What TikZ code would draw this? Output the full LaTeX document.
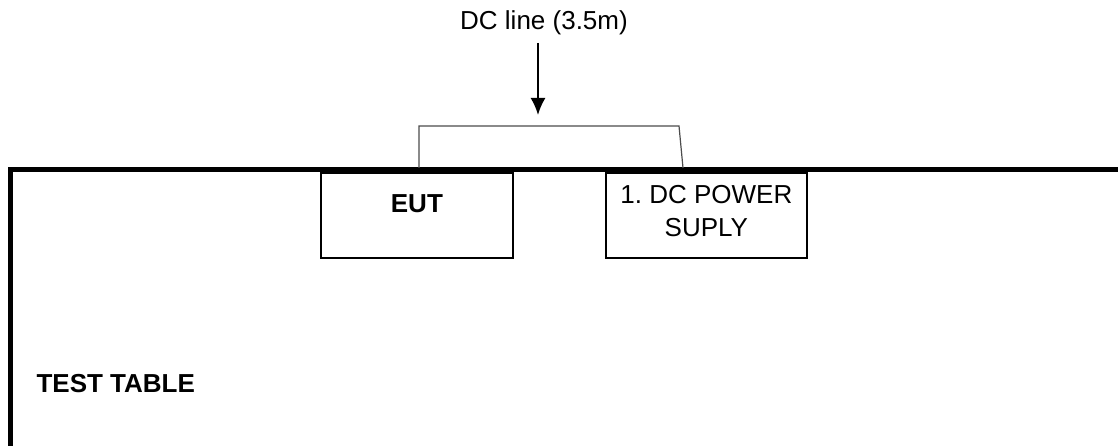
\documentclass[tikz,border=0pt]{standalone}
\usepackage{fontspec}
\setmainfont{Liberation Sans}
\usetikzlibrary{arrows.meta,positioning}

\tikzset{
    unitbox/.style={draw, line width=1.8pt, anchor=north west, minimum width=192pt,
        minimum height=85pt, inner sep=0pt, align=center, font=\fontsize{26}{33}\selectfont},
    cable/.style={draw=black!70, line width=1.2pt},
}

\begin{document}
\frenchspacing
\begin{tikzpicture}[>={Latex[length=17pt,width=15pt]}, x=1pt, y=1pt]
    \useasboundingbox (0,0) rectangle (1118,-446);

    % test table
    \draw[line width=5pt] (10,-446) |- (1118,-169.5);
    \node[anchor=west, font=\fontsize{26}{31}\selectfont\bfseries] (table) at (33,-384) {TEST TABLE};

    % devices on the table
    \node[unitbox, font=\fontsize{26}{31}\selectfont\bfseries, text height=19pt, text depth=25pt] (eut) at (320,-172) {EUT};
    \node[unitbox, minimum width=201pt, text depth=9pt] (psu) at (605,-172) {1. DC POWER\\SUPLY};

    % DC line between EUT and power supply
    \coordinate (cl) at (419,-168);
    \coordinate (cr) at (683,-168);
    \draw[cable] (cl) -- ++(0,42) -- (679,-126) -- (cr);

    % label and arrow
    \node[font=\fontsize{26}{31}\selectfont] (dcline) at (544,-23) {DC line (3.5m)};
    \coordinate (atop) at (538,-43);
    \coordinate (aend) at (538,-115);
    \draw[->, line width=2pt] (atop) -- (aend);
\end{tikzpicture}
\end{document}
